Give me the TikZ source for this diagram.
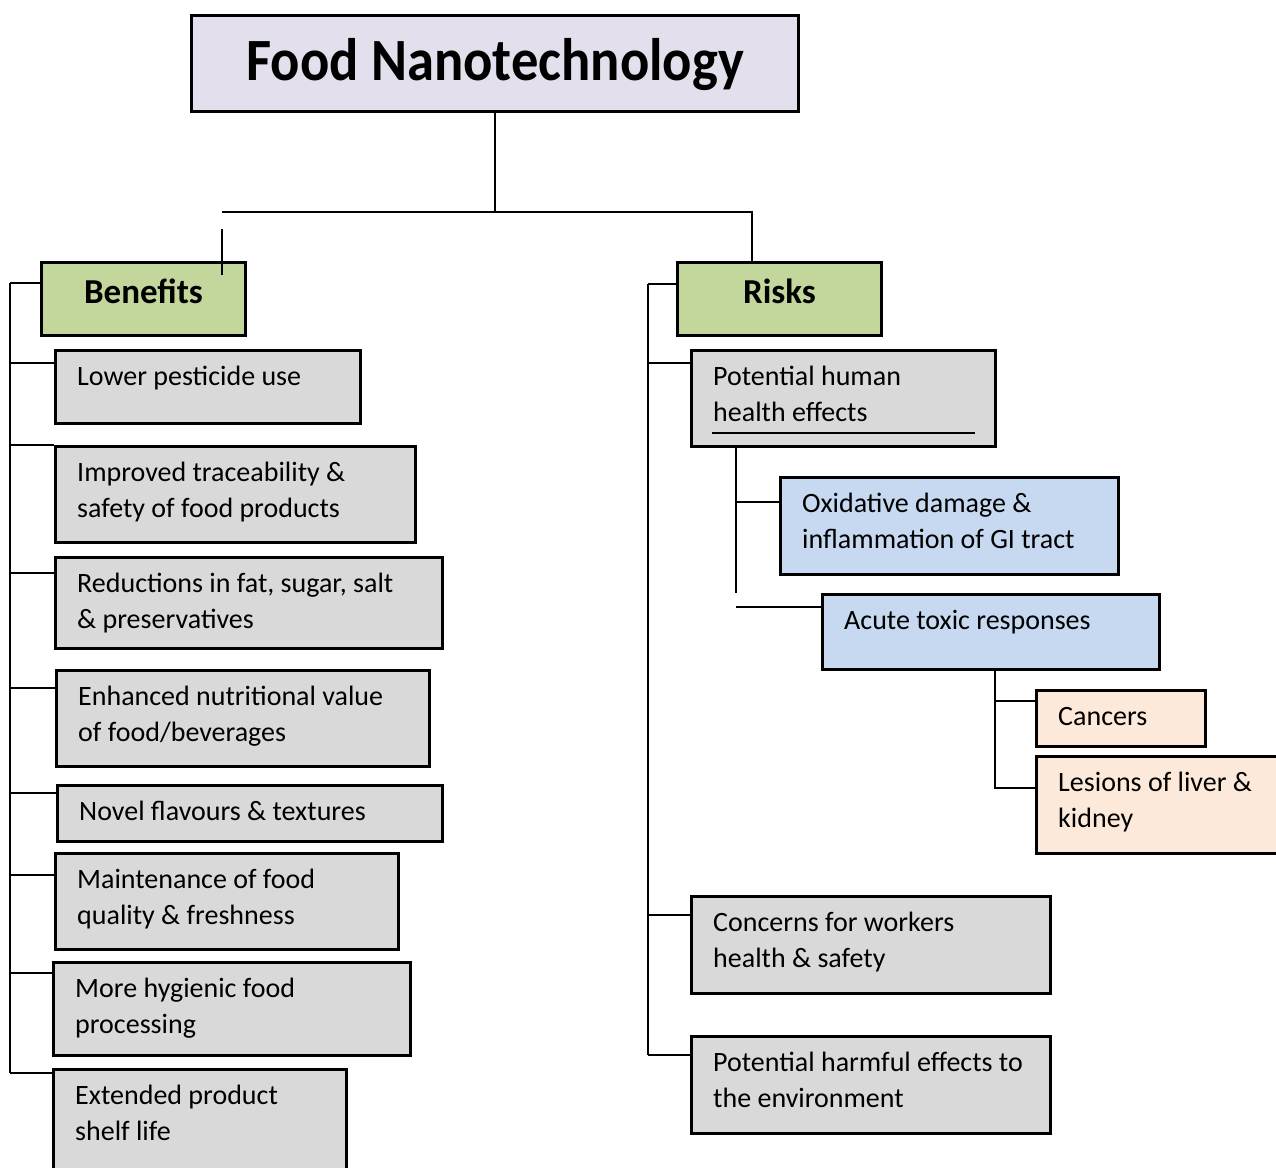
\documentclass[tikz,border=0pt]{standalone}
\usepackage{fontspec}
\setmainfont{Carlito}
\newfontfamily\titlefont{Carlito}[FakeStretch=0.91]
\usetikzlibrary{calc}
\definecolor{titlefill}{HTML}{E4DFEC}
\definecolor{headfill}{HTML}{C3D69B}
\definecolor{grayfill}{HTML}{D9D9D9}
\definecolor{bluefill}{HTML}{C6D9F0}
\definecolor{peachfill}{HTML}{FDE9D9}
\tikzset{
  box/.style={draw=black, line width=3pt, anchor=north west, inner sep=0pt},
  txt/.style={anchor=base west, inner sep=0pt, font=\fontsize{28}{36}\selectfont},
  conn/.style={draw=black, line width=1.8pt},
}
\newcommand{\bx}[7]{% name, left, top, right, bottom, fill, text
  \node[box, fill=#6, minimum width={#4-#2}, minimum height={#5-#3}] (#1) at (#2,#3) {};
  \node[txt] (#1t) at ([shift={(23,36)}]#1.north west) {\begin{tabular}[t]{@{}l@{}}#7\end{tabular}};
}
\begin{document}
\begin{tikzpicture}[x=1pt,y=-1pt]
\useasboundingbox (0,0) rectangle (1276,1167);
\clip (0,0) rectangle (1276,1167);
\fill[white] (0,0) rectangle (1276,1167);

% title
\node[box, fill=titlefill, minimum width=607, minimum height=96] (title) at (190,14) {};
\node[inner sep=0pt, anchor=base, font=\titlefont\bfseries\fontsize{60}{70}\selectfont] (titlet) at ([yshift=-66pt]title.north) {Food Nanotechnology};

% headers
\node[box, fill=headfill, minimum width=204, minimum height=73] (ben) at (40,261) {};
\node[inner sep=0pt, anchor=base, font=\bfseries\fontsize{35}{40}\selectfont] (bent) at ([yshift=-42pt]ben.north) {Benefits};
\node[box, fill=headfill, minimum width=204, minimum height=73] (risk) at (676,261) {};
\node[inner sep=0pt, anchor=base, font=\bfseries\fontsize{35}{40}\selectfont] (riskt) at ([yshift=-42pt]risk.north) {Risks};

% benefits
\bx{b1}{54}{349}{359}{422}{grayfill}{Lower pesticide use}
\bx{b2}{54}{445}{414}{541}{grayfill}{Improved traceability \&\\safety of food products}
\bx{b3}{54}{556}{441}{647}{grayfill}{Reductions in fat, sugar, salt\\\& preservatives}
\bx{b4}{55}{669}{428}{765}{grayfill}{Enhanced nutritional value\\of food/beverages}
\bx{b5}{56}{784}{441}{840}{grayfill}{Novel flavours \& textures}
\bx{b6}{54}{852}{397}{948}{grayfill}{Maintenance of food\\quality \& freshness}
\bx{b7}{52}{961}{409}{1054}{grayfill}{More hygienic food\\processing}
\bx{b8}{52}{1068}{345}{1185}{grayfill}{Extended product\\shelf life}

% risks
\bx{r1}{690}{349}{994}{445}{grayfill}{Potential human\\health effects}
\bx{r2}{779}{476}{1117}{573}{bluefill}{Oxidative damage \&\\inflammation of GI tract}
\bx{r3}{821}{593}{1158}{668}{bluefill}{Acute toxic responses}
\bx{r4}{1035}{689}{1204}{745}{peachfill}{Cancers}
\bx{r5}{1035}{755}{1295}{852}{peachfill}{Lesions of liver \&\\kidney}
\bx{r6}{690}{895}{1049}{992}{grayfill}{Concerns for workers\\health \& safety}
\bx{r7}{690}{1035}{1049}{1132}{grayfill}{Potential harmful effects to\\the environment}

\draw[line width=1.2pt] ([shift={(22,84)}]r1.north west) coordinate (u1) -- ([shift={(285,84)}]r1.north west) coordinate (u2);

% top connectors
\coordinate (hl) at (222,212);
\coordinate (hr) at (752,212);
\draw[conn] (title.south) -- (title.south |- hl);
\draw[conn] (hl) -- (hr) -- (hr |- risk.north);
\draw[conn] ([shift={(182,-32)}]ben.north west) -- ([shift={(182,14)}]ben.north west);

% left spine
\coordinate (L0) at (10,283);
\coordinate (L1) at (10,1073);
\draw[conn] (L0) -- (L1);
\coordinate (benc) at ([yshift=-22pt]ben.north west);
\draw[conn] (benc) -- (benc -| L0);
\foreach \n/\d in {b1/14,b2/0,b3/17,b4/19,b5/9,b6/23,b7/12,b8/5}{
  \coordinate (\n c) at ([yshift=-\d pt]\n.north west);
  \draw[conn] (\n c) -- (\n c -| L0);
}

% right spine
\coordinate (R0) at (648,284);
\coordinate (R1) at (648,1055);
\draw[conn] (R0) -- (R1);
\coordinate (riskc) at ([yshift=-23pt]risk.north west);
\draw[conn] (riskc) -- (riskc -| R0);
\foreach \n/\d in {r1/14,r6/20,r7/20}{
  \coordinate (\n c) at ([yshift=-\d pt]\n.north west);
  \draw[conn] (\n c) -- (\n c -| R0);
}

% health sub-spine
\coordinate (S2) at ([xshift=46pt]r1.south west);
\draw[conn] (S2) -- (S2 |- r3.north);
\coordinate (r2c) at ([yshift=-26pt]r2.north west);
\draw[conn] (r2c) -- (r2c -| S2);
\coordinate (r3c) at ([yshift=-14pt]r3.north west);
\draw[conn] (r3c) -- (r3c -| S2);

% acute sub-spine
\coordinate (S3) at ([xshift=174pt]r3.south west);
\coordinate (r5c) at ([yshift=-33pt]r5.north west);
\draw[conn] (S3) |- (r5c);
\coordinate (r4c) at ([yshift=-12pt]r4.north west);
\draw[conn] (r4c) -- (r4c -| S3);
\end{tikzpicture}
\end{document}
